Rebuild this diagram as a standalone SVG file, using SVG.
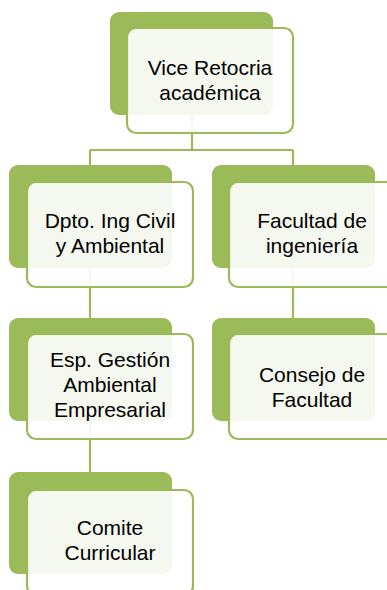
<svg xmlns="http://www.w3.org/2000/svg" width="387" height="590" viewBox="0 0 387 590">
<style>
.back{fill:#9bbb59;}
.front{fill:#ffffff;fill-opacity:0.9;stroke:#9bbb59;stroke-width:2.2;}
.conn{stroke:#9bbb59;stroke-width:2.2;fill:none;}
text{font-family:"Liberation Sans",Arial,sans-serif;font-size:21px;fill:#000;text-anchor:middle;}
</style>
<rect width="387" height="590" fill="#ffffff"/>
<g id="connectors">
<path class="conn" d="M192,110 V150 M90,150 H293 M90,150 V180 M293,150 V180"/>
<path class="conn" d="M90,260 V320"/>
<path class="conn" d="M293,260 V320"/>
<path class="conn" d="M90,410 V473"/>
</g>
<g id="node-vice">
<rect class="back" x="110" y="12" width="163" height="103" rx="9"/>
<rect class="front" x="127" y="28" width="166" height="105" rx="9"/>
<text x="210" y="75">Vice Retocria</text>
<text x="210" y="100">académica</text>
</g>
<g id="node-dpto">
<rect class="back" x="9" y="165" width="163" height="103" rx="9"/>
<rect class="front" x="27" y="182" width="166" height="105" rx="9"/>
<text x="110" y="228">Dpto. Ing Civil</text>
<text x="110" y="253">y Ambiental</text>
</g>
<g id="node-facultad">
<rect class="back" x="212" y="165" width="163" height="103" rx="9"/>
<rect class="front" x="229" y="182" width="166" height="105" rx="9"/>
<text x="312" y="228">Facultad de</text>
<text x="312" y="253">ingeniería</text>
</g>
<g id="node-esp">
<rect class="back" x="9" y="318" width="163" height="103" rx="9"/>
<rect class="front" x="27" y="334" width="166" height="105" rx="9"/>
<text x="110" y="367">Esp. Gestión</text>
<text x="110" y="392">Ambiental</text>
<text x="110" y="417">Empresarial</text>
</g>
<g id="node-consejo">
<rect class="back" x="212" y="318" width="163" height="103" rx="9"/>
<rect class="front" x="229" y="334" width="166" height="105" rx="9"/>
<text x="312" y="382">Consejo de</text>
<text x="312" y="407">Facultad</text>
</g>
<g id="node-comite">
<rect class="back" x="9" y="472" width="163" height="102" rx="9"/>
<rect class="front" x="27" y="490" width="166" height="105" rx="9"/>
<text x="110" y="535">Comite</text>
<text x="110" y="560">Curricular</text>
</g>
</svg>
